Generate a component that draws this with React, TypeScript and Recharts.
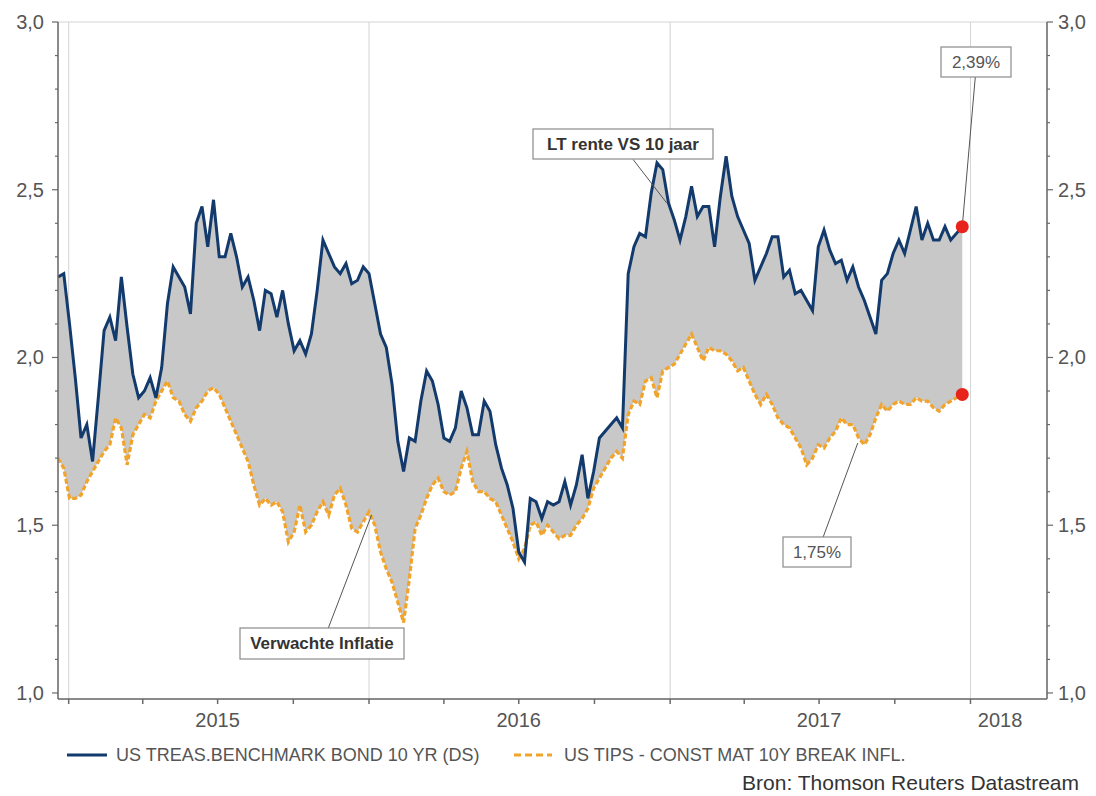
import React from "react";
import {
  ComposedChart,
  Area,
  Line,
  XAxis,
  YAxis,
  CartesianGrid,
  ReferenceLine,
  ReferenceDot,
} from "recharts";

const DAY = 86400000;
const START = Date.UTC(2014, 11, 19);
const X_MIN = START;
const X_MAX = Date.UTC(2018, 3, 4);

// weekly readings, starting 19 Dec 2014
const treasury = [
  2.24, 2.25, 2.1, 1.94, 1.76, 1.8, 1.69, 1.88, 2.08, 2.12, 2.05, 2.24, 2.09, 1.95, 1.88, 1.9, 1.94, 1.88, 1.97, 2.16,
  2.27, 2.24, 2.21, 2.13, 2.4, 2.45, 2.33, 2.47, 2.3, 2.3, 2.37, 2.3, 2.21, 2.24, 2.17, 2.08, 2.2, 2.19, 2.12, 2.2,
  2.1, 2.02, 2.05, 2.01, 2.07, 2.2, 2.35, 2.31, 2.27, 2.25, 2.28, 2.22, 2.23, 2.27, 2.25, 2.16, 2.07, 2.03, 1.92, 1.75,
  1.66, 1.76, 1.75, 1.87, 1.96, 1.93, 1.86, 1.76, 1.75, 1.79, 1.9, 1.85, 1.77, 1.77, 1.87, 1.84, 1.74, 1.67, 1.62, 1.55,
  1.42, 1.39, 1.58, 1.57, 1.52, 1.57, 1.56, 1.57, 1.63, 1.56, 1.62, 1.71, 1.58, 1.66, 1.76, 1.78, 1.8, 1.82, 1.79, 2.25,
  2.33, 2.37, 2.36, 2.49, 2.58, 2.56, 2.46, 2.41, 2.35, 2.42, 2.51, 2.42, 2.45, 2.45, 2.33, 2.48, 2.6, 2.48, 2.42, 2.38,
  2.34, 2.23, 2.27, 2.31, 2.36, 2.36, 2.24, 2.26, 2.19, 2.2, 2.17, 2.14, 2.33, 2.38, 2.32, 2.28, 2.29, 2.23, 2.27, 2.21,
  2.17, 2.12, 2.07, 2.23, 2.25, 2.31, 2.35, 2.31, 2.38, 2.45, 2.35, 2.4, 2.35, 2.35, 2.39, 2.35, 2.37, 2.39,
];

const breakeven = [
  1.7, 1.67, 1.58, 1.58, 1.59, 1.63, 1.66, 1.69, 1.72, 1.74, 1.82, 1.79, 1.68, 1.77, 1.8, 1.83, 1.82, 1.87, 1.9, 1.93,
  1.88, 1.87, 1.83, 1.81, 1.85, 1.87, 1.9, 1.91, 1.89, 1.85, 1.81, 1.77, 1.73, 1.69, 1.62, 1.56, 1.58, 1.56, 1.57, 1.54,
  1.45, 1.48, 1.56, 1.48, 1.5, 1.54, 1.57, 1.53, 1.59, 1.61, 1.56, 1.49, 1.48, 1.51, 1.54, 1.5, 1.42, 1.37, 1.33, 1.27,
  1.21, 1.34, 1.49, 1.53, 1.58, 1.62, 1.64, 1.6, 1.59, 1.6, 1.67, 1.72, 1.63, 1.6, 1.6, 1.58, 1.57, 1.53, 1.49, 1.45,
  1.4, 1.43, 1.5, 1.51, 1.47, 1.5, 1.48, 1.46, 1.47, 1.47, 1.5, 1.52, 1.55, 1.61, 1.64, 1.67, 1.7, 1.72, 1.7, 1.83,
  1.87, 1.86, 1.93, 1.94, 1.88, 1.96, 1.97, 1.98, 2.01, 2.04, 2.07, 2.03, 1.99, 2.03, 2.02, 2.02, 2.01, 1.99, 1.96, 1.97,
  1.93, 1.89, 1.86, 1.89, 1.86, 1.82, 1.8, 1.79, 1.76, 1.73, 1.68, 1.7, 1.74, 1.73, 1.76, 1.78, 1.82, 1.8, 1.8, 1.76,
  1.74, 1.77, 1.82, 1.86, 1.84, 1.86, 1.87, 1.86, 1.86, 1.88, 1.87, 1.87, 1.85, 1.84, 1.86, 1.87, 1.88, 1.89,
];

const seriesNames = ["US TREAS.BENCHMARK BOND 10 YR (DS)", "US TIPS - CONST MAT 10Y BREAK INFL."];

const quarterTicks = [
  Date.UTC(2015, 0, 1), Date.UTC(2015, 3, 1), Date.UTC(2015, 6, 1), Date.UTC(2015, 9, 1),
  Date.UTC(2016, 0, 1), Date.UTC(2016, 3, 1), Date.UTC(2016, 6, 1), Date.UTC(2016, 9, 1),
  Date.UTC(2017, 0, 1), Date.UTC(2017, 3, 1), Date.UTC(2017, 6, 1), Date.UTC(2017, 9, 1),
  Date.UTC(2018, 0, 1),
];
const yearStarts = [Date.UTC(2015, 0, 1), Date.UTC(2016, 0, 1), Date.UTC(2017, 0, 1), Date.UTC(2018, 0, 1)];
const yearLabels = [
  { at: Date.UTC(2015, 6, 1), text: "2015" },
  { at: Date.UTC(2016, 6, 1), text: "2016" },
  { at: Date.UTC(2017, 6, 1), text: "2017" },
  { at: Date.UTC(2018, 1, 6), text: "2018" },
];
const yTicks = [1, 1.1, 1.2, 1.3, 1.4, 1.5, 1.6, 1.7, 1.8, 1.9, 2, 2.1, 2.2, 2.3, 2.4, 2.5, 2.6, 2.7, 2.8, 2.9, 3];
const yMajor = [1, 1.5, 2, 2.5, 3];
const Y_DOMAIN = [0.982, 3];

const data = treasury.map((v, i) => ({
  date: START + i * 7 * DAY,
  treas: v,
  tips: breakeven[i],
  gap: [breakeven[i], v],
}));
const last = data[data.length - 1];

const callouts = [
  { from: { x: Date.UTC(2016, 10, 17), y: 2.59 }, to: { x: Date.UTC(2016, 11, 28), y: 2.46 } },
  { from: { x: Date.UTC(2018, 0, 7), y: 2.84 }, to: { x: last.date, y: last.treas } },
  { from: { x: Date.UTC(2017, 6, 6), y: 1.465 }, to: { x: Date.UTC(2017, 7, 17), y: 1.745 } },
  { from: { x: Date.UTC(2015, 10, 12), y: 1.19 }, to: { x: Date.UTC(2016, 0, 4), y: 1.53 } },
];

const boxes = [
  { text: "LT rente VS 10 jaar", x: 533, y: 129, w: 180, h: 30, bold: true },
  { text: "2,39%", x: 941, y: 47, w: 70, h: 30, bold: false },
  { text: "1,75%", x: 783, y: 537, w: 68, h: 30, bold: false },
  { text: "Verwachte Inflatie", x: 240, y: 628, w: 164, h: 31, bold: true },
];

const FONT = "'Liberation Sans', Arial, sans-serif";
const BLUE = "#133a6c";
const ORANGE = "#f2a32a";
const AXIS = "#6a6a6a";

const fmt = (v: number) => v.toFixed(1).replace(".", ",");
const isMajor = (v: number) => Math.round(v * 10) % 5 === 0;

const XTick = ({ x, y, payload }: any) => {
  const v = payload.value;
  const label = yearLabels.find((l) => l.at === v);
  return (
    <g>
      {quarterTicks.includes(v) && <line x1={x} x2={x} y1={y} y2={y + 5} stroke={AXIS} strokeWidth={1.5} />}
      {label && (
        <text x={x} y={y + 28} textAnchor="middle" fontSize={20} fill="#555" fontFamily={FONT}>
          {label.text}
        </text>
      )}
    </g>
  );
};

const LeftTick = ({ x, y, payload }: any) => {
  const v = payload.value;
  const major = isMajor(v);
  return (
    <g>
      <line x1={x - (major ? 6 : 3)} x2={x} y1={y} y2={y} stroke={AXIS} strokeWidth={1.2} />
      {major && (
        <text x={x - 14} y={y} dy="0.35em" textAnchor="end" fontSize={20} fill="#555" fontFamily={FONT}>
          {fmt(v)}
        </text>
      )}
    </g>
  );
};

const RightTick = ({ x, y, payload }: any) => {
  const v = payload.value;
  const major = isMajor(v);
  return (
    <g>
      <line x1={x} x2={x + (major ? 6 : 3)} y1={y} y2={y} stroke={AXIS} strokeWidth={1.2} />
      {major && (
        <text x={x + 11} y={y} dy="0.35em" textAnchor="start" fontSize={20} fill="#555" fontFamily={FONT}>
          {fmt(v)}
        </text>
      )}
    </g>
  );
};

export default function App() {
  return (
    <div style={{ position: "absolute", left: 0, top: 0, width: 1096, height: 796, background: "#fff" }}>
      <ComposedChart
        width={1096}
        height={796}
        data={data}
        margin={{ top: 22, right: 0, bottom: 67, left: 0 }}
        style={{ fontFamily: FONT }}
      >
        <XAxis
          xAxisId="main"
          type="number"
          dataKey="date"
          domain={[X_MIN, X_MAX]}
          allowDataOverflow
          ticks={[...quarterTicks, yearLabels[3].at]}
          tick={<XTick />}
          tickLine={false}
          tickSize={0}
          tickMargin={0}
          interval={0}
          height={30}
          axisLine={{ stroke: AXIS, strokeWidth: 1.5 }}
        />
        <YAxis
          yAxisId="left"
          type="number"
          domain={Y_DOMAIN}
          allowDataOverflow
          ticks={yTicks}
          interval={0}
          tick={<LeftTick />}
          tickLine={false}
          tickSize={0}
          tickMargin={0}
          width={58}
          axisLine={{ stroke: AXIS, strokeWidth: 1.5 }}
        />
        <YAxis
          yAxisId="right"
          orientation="right"
          type="number"
          domain={Y_DOMAIN}
          allowDataOverflow
          ticks={yTicks}
          interval={0}
          tick={<RightTick />}
          tickLine={false}
          tickSize={0}
          tickMargin={0}
          width={49}
          axisLine={{ stroke: AXIS, strokeWidth: 1.5 }}
        />
        <XAxis xAxisId="grid" type="number" dataKey="date" domain={[X_MIN, X_MAX]} ticks={yearStarts} height={0} hide />
        <YAxis yAxisId="grid" type="number" domain={Y_DOMAIN} ticks={yMajor} width={0} hide />
        <CartesianGrid xAxisId="grid" yAxisId="grid" stroke="#d4d4d4" strokeWidth={1} />

        <Area
          xAxisId="main"
          yAxisId="left"
          type="linear"
          dataKey="gap"
          fill="#c8c8c8"
          fillOpacity={1}
          stroke="none"
          isAnimationActive={false}
        />
        <Line
          xAxisId="main"
          yAxisId="left"
          type="linear"
          dataKey="tips"
          name={seriesNames[1]}
          stroke={ORANGE}
          strokeWidth={3.2}
          strokeDasharray="5 2.5"
          dot={false}
          isAnimationActive={false}
        />
        <Line
          xAxisId="main"
          yAxisId="left"
          type="linear"
          dataKey="treas"
          name={seriesNames[0]}
          stroke={BLUE}
          strokeWidth={3}
          dot={false}
          isAnimationActive={false}
        />

        {callouts.map((c, i) => (
          <ReferenceLine
            key={i}
            xAxisId="main"
            yAxisId="left"
            segment={[c.from, c.to]}
            stroke="#555"
            strokeWidth={1}
            ifOverflow="visible"
          />
        ))}
        <ReferenceDot xAxisId="main" yAxisId="left" x={last.date} y={last.treas} r={6.5} fill="#e8231c" stroke="none" ifOverflow="visible" />
        <ReferenceDot xAxisId="main" yAxisId="left" x={last.date} y={last.tips} r={6.5} fill="#e8231c" stroke="none" ifOverflow="visible" />
      </ComposedChart>

      <svg
        width={1096}
        height={796}
        style={{ position: "absolute", left: 0, top: 0, pointerEvents: "none", fontFamily: FONT }}
      >
        {boxes.map((b) => (
          <g key={b.text}>
            <rect x={b.x} y={b.y} width={b.w} height={b.h} fill="#fff" stroke="#8a8a8a" strokeWidth={1.2} />
            <text
              x={b.x + b.w / 2}
              y={b.y + b.h / 2}
              dy="0.35em"
              textAnchor="middle"
              fontSize={17}
              fontWeight={b.bold ? "bold" : "normal"}
              fill={b.bold ? "#333" : "#555"}
            >
              {b.text}
            </text>
          </g>
        ))}

        <line x1={67} x2={107} y1={755} y2={755} stroke={BLUE} strokeWidth={3} />
        <text x={116} y={755} dy="0.35em" fontSize={18} fill="#555">
          {seriesNames[0]}
        </text>
        <line x1={514} x2={552} y1={755} y2={755} stroke={ORANGE} strokeWidth={3} strokeDasharray="7 4" />
        <text x={564} y={755} dy="0.35em" fontSize={18} fill="#555">
          {seriesNames[1]}
        </text>
        <text x={1079} y={783} dy="0.35em" textAnchor="end" fontSize={21} fill="#333">
          Bron: Thomson Reuters Datastream
        </text>
      </svg>
    </div>
  );
}
